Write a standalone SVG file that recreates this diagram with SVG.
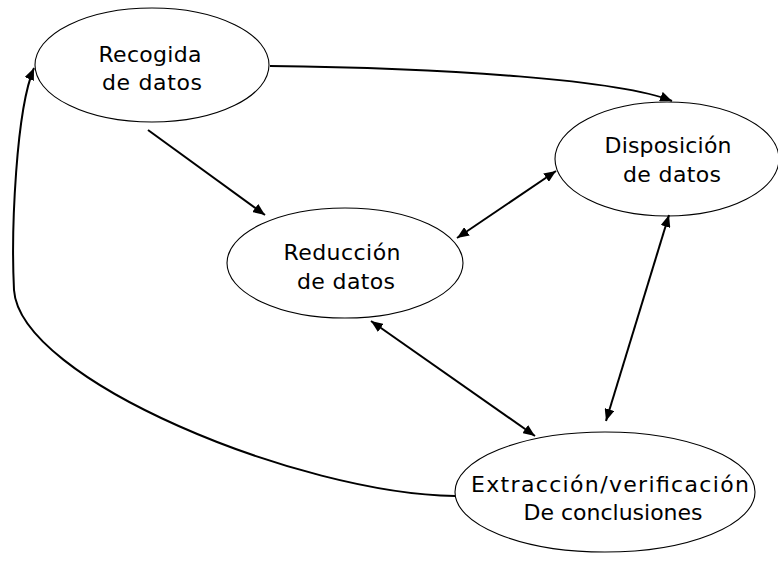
<svg xmlns="http://www.w3.org/2000/svg" width="778" height="565" viewBox="0 0 778 565">
<style>
.node ellipse{fill:#fff;stroke:#000;stroke-width:1.1}
.node text{font-family:"DejaVu Sans","Liberation Sans",sans-serif;font-size:22px;fill:#000;text-anchor:middle}
.edge{fill:none;stroke:#000;stroke-width:2}
</style>
<defs>
<marker id="ah" viewBox="0 0 12 10" refX="12" refY="5" markerWidth="12" markerHeight="10" markerUnits="userSpaceOnUse" orient="auto-start-reverse">
<path d="M0,0 L12,5 L0,10 Z" fill="#000"/>
</marker>
</defs>
<g id="n-recogida" class="node">
<ellipse cx="152" cy="65" rx="117" ry="57"/>
<text x="150" y="62" textLength="103" lengthAdjust="spacing">Recogida</text>
<text x="152" y="90" textLength="100" lengthAdjust="spacing">de datos</text>
</g>
<g id="n-disposicion" class="node">
<ellipse cx="667" cy="159" rx="112" ry="57"/>
<text x="668" y="153" textLength="127" lengthAdjust="spacing">Disposición</text>
<text x="672" y="182" textLength="98" lengthAdjust="spacing">de datos</text>
</g>
<g id="n-reduccion" class="node">
<ellipse cx="345" cy="263" rx="118" ry="55"/>
<text x="342" y="260" textLength="117" lengthAdjust="spacing">Reducción</text>
<text x="346" y="289" textLength="98" lengthAdjust="spacing">de datos</text>
</g>
<g id="n-extraccion" class="node">
<ellipse cx="605" cy="492" rx="150" ry="60"/>
<text x="610" y="492" textLength="278" lengthAdjust="spacing">Extracción/verificación</text>
<text x="613" y="520">De conclusiones</text>
</g>
<g id="connectors">
<path class="edge" d="M270,66 C450,68 620,80 672,101" marker-end="url(#ah)"/>
<path class="edge" d="M148,130 L265,215" marker-end="url(#ah)"/>
<path class="edge" d="M457,238 L556,171" marker-start="url(#ah)" marker-end="url(#ah)"/>
<path class="edge" d="M669,215 L606,421" marker-start="url(#ah)" marker-end="url(#ah)"/>
<path class="edge" d="M371,321 L535,436" marker-start="url(#ah)" marker-end="url(#ah)"/>
<path class="edge" d="M455,496 C300,494 20,380 14,290 C11,230 16,110 34,68" marker-end="url(#ah)"/>
</g>
</svg>
